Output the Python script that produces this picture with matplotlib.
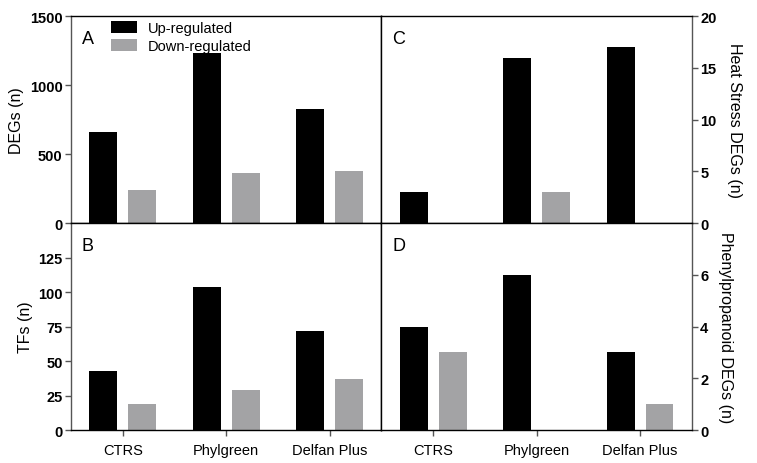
import numpy as np
import matplotlib.pyplot as plt

plt.rcParams['font.family'] = ['Liberation Sans', 'DejaVu Sans']

# data
categories = ['CTRS', 'Phylgreen', 'Delfan Plus']
degs_up = [661, 1230, 825]
degs_down = [239, 364, 379]
tfs_up = [43, 104, 72]
tfs_down = [19, 29, 37]
heat_up = [3, 16, 17]
heat_down = [0, 3, 0]
phenyl_up = [4, 6, 3]
phenyl_down = [3, 0, 1]

up_color = '#000000'
down_color = '#a3a3a5'

fig = plt.figure(figsize=(7.57, 4.64), dpi=100)
gs = fig.add_gridspec(2, 2, left=0.0938, right=0.914, top=0.963, bottom=0.071,
                      hspace=0, wspace=0)
axA = fig.add_subplot(gs[0, 0])
axB = fig.add_subplot(gs[1, 0])
axC = fig.add_subplot(gs[0, 1])
axD = fig.add_subplot(gs[1, 1])

x = np.arange(len(categories))
w = 0.27
off = 0.187


def draw(ax, up, down, ylim, ticks, letter, side, bottom):
    ax.bar(x - off, up, w, color=up_color, label='Up-regulated')
    ax.bar(x + off, down, w, color=down_color, label='Down-regulated')
    ax.set_xlim(-0.5, 2.5)
    ax.set_ylim(*ylim)
    ax.set_yticks(ticks)
    for s in ax.spines.values():
        s.set_linewidth(1.0)
        s.set_color('black')
    if side == 'right':
        ax.yaxis.tick_right()
        ax.yaxis.set_label_position('right')
        ax.spines['right'].set_color('#555555')
    else:
        ax.spines['left'].set_color('#555555')
    ax.tick_params(axis='y', direction='out', length=4, width=1, color='#555555',
                   pad=2, labelsize=10.5)
    for t in ax.get_yticklabels():
        t.set_fontweight('bold')
    if bottom:
        ax.set_xticks(x)
        ax.set_xticklabels(categories, fontsize=10.5)
        ax.tick_params(axis='x', direction='out', length=4, width=1,
                       color='#555555', pad=5)
    else:
        ax.set_xticks([])
    ax.text(0.035, 0.935, letter, transform=ax.transAxes, fontsize=13,
            ha='left', va='top')


draw(axA, degs_up, degs_down, (0, 1500), [0, 500, 1000, 1500], 'A', 'left', False)
draw(axB, tfs_up, tfs_down, (0, 150), [0, 25, 50, 75, 100, 125], 'B', 'left', True)
draw(axC, heat_up, heat_down, (0, 20), [0, 5, 10, 15, 20], 'C', 'right', False)
draw(axD, phenyl_up, phenyl_down, (0, 8), [0, 2, 4, 6], 'D', 'right', True)

axA.set_ylabel('DEGs (n)', fontsize=11.5, labelpad=4)
axB.set_ylabel('TFs (n)', fontsize=11.5, labelpad=4)
axC.set_ylabel('Heat Stress DEGs (n)', fontsize=11.5, rotation=270, labelpad=18)
axD.set_ylabel('Phenylpropanoid DEGs (n)', fontsize=11.5, rotation=270, labelpad=18)

axA.legend(loc='upper left', bbox_to_anchor=(0.1, 1.02), frameon=False,
           fontsize=10.5, handlelength=1.8, handleheight=0.9,
           labelspacing=0.25, handletextpad=0.75, borderaxespad=0.2)

fig.savefig('out.png', dpi=100)
